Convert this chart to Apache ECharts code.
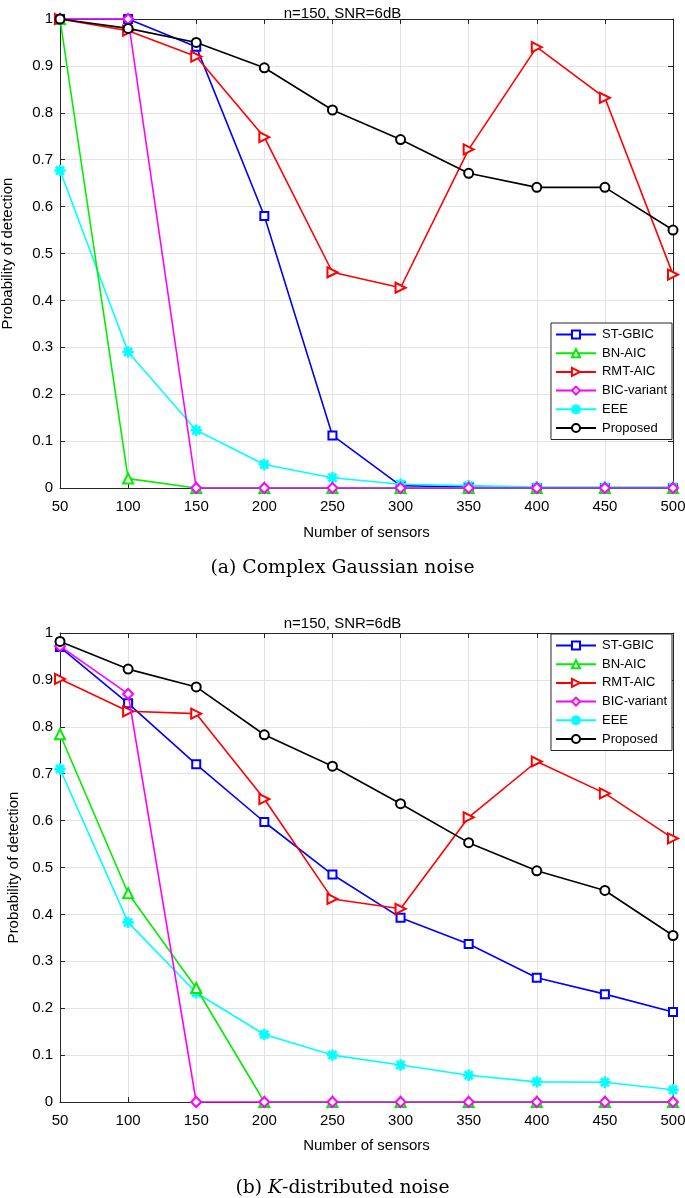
<!DOCTYPE html>
<html><head><meta charset="utf-8">
<script src="https://cdn.jsdelivr.net/npm/echarts@6/dist/echarts.min.js"></script>
<style>html,body{margin:0;padding:0;background:#fff}#c{width:685px;height:1198px}</style>
</head><body><div id="c"></div>
<script>
const sensors = [50,100,150,200,250,300,350,400,450,500];
const seriesNames = ['ST-GBIC','BN-AIC','RMT-AIC','BIC-variant','EEE','Proposed'];
// (a) Complex Gaussian noise
const gaussST   = [1.0,1.0,0.941,0.58,0.112,0.005,0.002,0.0,0.0,0.0];
const gaussBN   = [1.0,0.02,0.0,0.0,0.0,0.0,0.0,0.0,0.0,0.0];
const gaussRMT  = [1.0,0.975,0.92,0.748,0.46,0.427,0.722,0.94,0.832,0.455];
const gaussBIC  = [1.0,1.0,0.0,0.0,0.0,0.0,0.0,0.0,0.0,0.0];
const gaussEEE  = [0.677,0.29,0.123,0.05,0.022,0.008,0.005,0.002,0.002,0.002];
const gaussProp = [1.0,0.98,0.95,0.896,0.806,0.743,0.671,0.641,0.641,0.55];
// (b) K-distributed noise
const kST   = [0.97,0.85,0.72,0.597,0.485,0.393,0.337,0.265,0.23,0.192];
const kBN   = [0.784,0.445,0.243,0.0,0.0,0.0,0.0,0.0,0.0,0.0];
const kRMT  = [0.902,0.833,0.828,0.646,0.433,0.412,0.607,0.726,0.658,0.562];
const kBIC  = [0.972,0.87,0.0,0.0,0.0,0.0,0.0,0.0,0.0,0.0];
const kEEE  = [0.71,0.383,0.233,0.144,0.1,0.079,0.057,0.043,0.042,0.026];
const kProp = [0.982,0.923,0.885,0.783,0.716,0.636,0.553,0.493,0.451,0.355];
const plotTitle = 'n=150, SNR=6dB';
const xName = 'Number of sensors';
const yName = 'Probability of detection';

const FONT = 'Liberation Sans';
const SERIF = 'DejaVu Serif';
const colors = ['#0000ff','#00ee00','#ff0000','#ff00ff','#00ffff','#000000'];
const star = 'path://M-0.6,-5L0.6,-5L0.6,-1.45L3.1,-4.0L4.0,-3.1L1.45,-0.6L5,-0.6L5,0.6L1.45,0.6L4.0,3.1L3.1,4.0L0.6,1.45L0.6,5L-0.6,5L-0.6,1.45L-3.1,4.0L-4.0,3.1L-1.45,0.6L-5,0.6L-5,-0.6L-1.45,-0.6L-4.0,-3.1L-3.1,-4.0L-0.6,-1.45Z';
const symbols = ['emptyRect','emptyTriangle','emptyTriangle','emptyDiamond',star,'emptyCircle'];
const rotates = [0,0,-90,0,0,0];
const sizes = [8,10,10,10,10,9];

function mk(gi, arrs){
  return arrs.map((a,i)=>({
    name: seriesNames[i], type:'line', xAxisIndex: gi*2, yAxisIndex: gi*2,
    data: a.map((v,k)=>[sensors[k], v]),
    symbol: symbols[i], symbolSize: sizes[i], symbolRotate: rotates[i],
    showAllSymbol: true, z: 3 + (i===4?0:i),
    lineStyle:{color:colors[i], width:1.6},
    itemStyle:{color:colors[i], borderColor:colors[i], borderWidth:1.4},
    emphasis:{disabled:true}, animation:false
  }));
}

const grids = [
  {left:60, right:12, top:19, height:469, outerBoundsMode:'none', containLabel:false},
  {left:60, right:12, top:633, height:469, outerBoundsMode:'none', containLabel:false}
];
const xAxes = [], yAxes = [];
[0,1].forEach(g=>{
  xAxes.push({type:'value', gridIndex:g, min:50, max:500, interval:50,
    name:xName, nameLocation:'middle', nameGap: g===0?37:36,
    nameTextStyle:{fontFamily:FONT,fontSize:15,color:'#000'},
    axisLine:{onZero:false,lineStyle:{color:'#262626',width:1}},
    axisTick:{inside:true,length:5,lineStyle:{color:'#262626'}},
    axisLabel:{fontFamily:FONT,fontSize:15,color:'#000',margin:11},
    splitLine:{show:true,lineStyle:{color:'#e3e3e3',width:1}}});
  xAxes.push({type:'value', gridIndex:g, position:'top', min:50, max:500, interval:50,
    axisLine:{onZero:false,lineStyle:{color:'#262626',width:1}},
    axisTick:{inside:true,length:5,lineStyle:{color:'#262626'}},
    axisLabel:{show:false}, splitLine:{show:false}});
  yAxes.push({type:'value', gridIndex:g, min:0, max:1, interval:0.1,
    name:yName, nameLocation:'middle', nameGap: g===0?45:35,
    nameTextStyle:{fontFamily:FONT,fontSize:15,color:'#000'},
    axisLine:{show:true,onZero:false,lineStyle:{color:'#262626',width:1}},
    axisTick:{show:true,inside:true,length:5,lineStyle:{color:'#262626'}},
    axisLabel:{fontFamily:FONT,fontSize:15,color:'#000',margin:7,
      formatter:v=> (Math.round(v*10)/10).toString()},
    splitLine:{show:true,lineStyle:{color:'#e3e3e3',width:1}}});
  yAxes.push({type:'value', gridIndex:g, position:'right', min:0, max:1, interval:0.1,
    axisLine:{show:true,onZero:false,lineStyle:{color:'#262626',width:1}},
    axisTick:{show:true,inside:true,length:5,lineStyle:{color:'#262626'}},
    axisLabel:{show:false}, splitLine:{show:false}});
});

function legend(top){
  return {orient:'vertical', right:13, top:top, data:seriesNames,
    itemWidth:40, itemHeight:10, itemGap:5.7, padding:[5,5,5,4],
    backgroundColor:'#fff', borderColor:'#262626', borderWidth:1,
    textStyle:{fontFamily:FONT,fontSize:13,color:'#000',padding:[0,0,0,1]},
    selectedMode:false, inactiveColor:'#000'};
}

const chart = echarts.init(document.getElementById('c'), null, {renderer:'canvas'});
chart.setOption({
  animation:false,
  backgroundColor:'#fff',
  title:[
    {text:plotTitle, left:'center', top:1, textStyle:{fontFamily:FONT,fontSize:15,fontWeight:'normal',color:'#000'}},
    {text:plotTitle, left:'center', top:611, textStyle:{fontFamily:FONT,fontSize:15,fontWeight:'normal',color:'#000'}},
    {text:'(a) Complex Gaussian noise', left:'center', top:554, textStyle:{fontFamily:SERIF,fontSize:18.8,fontWeight:'normal',color:'#000'}},
    {text:'{n|(b) }{i|K}{n|-distributed noise}', left:'center', top:1174,
      textStyle:{rich:{n:{fontFamily:SERIF,fontSize:18.8,fontWeight:'normal',color:'#000'},i:{fontFamily:SERIF,fontSize:18.8,fontWeight:'normal',fontStyle:'italic',color:'#000'}}}}
  ],
  grid:grids, xAxis:xAxes, yAxis:yAxes,
  legend:[legend(323), legend(634)],
  series:[...mk(0,[gaussST,gaussBN,gaussRMT,gaussBIC,gaussEEE,gaussProp]), ...mk(1,[kST,kBN,kRMT,kBIC,kEEE,kProp])]
});
</script></body></html>
